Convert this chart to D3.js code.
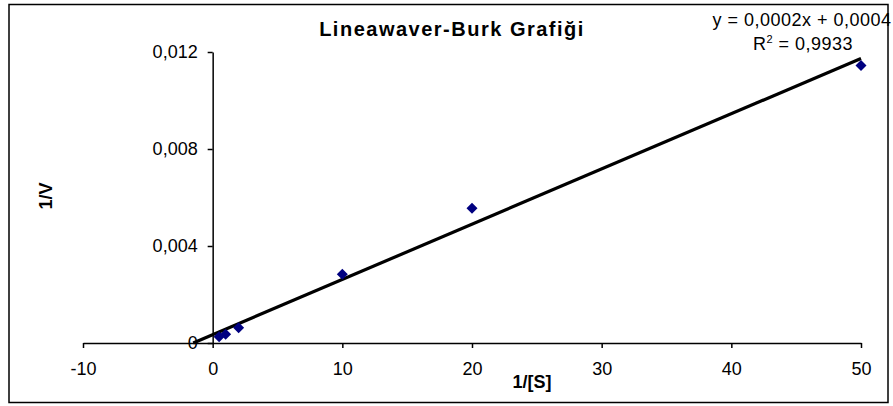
<!DOCTYPE html>
<html>
<head>
<meta charset="utf-8">
<script src="https://cdn.jsdelivr.net/npm/d3@7"></script>
<style>
  body { margin: 0; background: #fff; }
  svg text { font-family: "Liberation Sans", Arial, sans-serif; fill: #000; }
</style>
</head>
<body>
<script>
// data
const invS = [0.5, 1, 2, 10, 20, 50];
const invV = [0.00026, 0.00036, 0.00063, 0.00283, 0.00556, 0.01144];
const xTicks = [-10, 0, 10, 20, 30, 40, 50];
const yTicks = [0, 0.004, 0.008, 0.012];
const titleText = "Lineawaver-Burk Grafiği";
const eqText = "y = 0,0002x + 0,0004";
const r2Value = "0,9933";
const backCast = -1.5; // trendline drawn back past 0

const svgWidth = 893;
const svgHeight = 406;

const svg = d3.select("body").append("svg")
  .attr("width", svgWidth)
  .attr("height", svgHeight);

// outer frame
svg.append("rect")
  .attr("x", 9).attr("y", 4.5)
  .attr("width", 879).attr("height", 398)
  .attr("fill", "none")
  .attr("stroke", "#000")
  .attr("stroke-width", 1.5);

const x = d3.scaleLinear().domain([-10, 50]).range([83, 861]);
const y = d3.scaleLinear().domain([0, 0.012]).range([343, 52]);

const fmtY = (d) => (d === 0 ? "0" : d3.format(".3f")(d).replace(".", ","));

// x axis at y = 0
const xAxis = svg.append("g")
  .attr("transform", `translate(0, ${y(0)})`)
  .call(d3.axisBottom(x).tickValues(xTicks).tickFormat((d) => String(d))
    .tickSize(5).tickSizeOuter(0).tickPadding(14));

// y axis at x = 0
const yAxis = svg.append("g")
  .attr("transform", `translate(${x(0)}, 0)`)
  .call(d3.axisLeft(y).tickValues(yTicks).tickFormat(fmtY).tickSize(5).tickSizeOuter(0).tickPadding(10));

[xAxis, yAxis].forEach((g) => {
  g.selectAll("path.domain").attr("stroke", "#000").attr("stroke-width", 1.5);
  g.selectAll(".tick line").attr("stroke", "#000").attr("stroke-width", 1.5);
  g.selectAll(".tick text")
    .attr("font-family", "Liberation Sans, Arial, sans-serif")
    .attr("font-size", "18px")
    .attr("fill", "#000");
});

// least squares trendline
const n = invS.length;
const mx = d3.mean(invS);
const my = d3.mean(invV);
let sxy = 0, sxx = 0;
for (let i = 0; i < n; i++) {
  sxy += (invS[i] - mx) * (invV[i] - my);
  sxx += (invS[i] - mx) * (invS[i] - mx);
}
const slope = sxy / sxx;
const intercept = my - slope * mx;
const xEnd = d3.max(invS);

svg.append("line")
  .attr("x1", x(backCast))
  .attr("y1", y(slope * backCast + intercept))
  .attr("x2", x(xEnd))
  .attr("y2", y(slope * xEnd + intercept))
  .attr("stroke", "#000")
  .attr("stroke-width", 3.2);

// diamond markers
const diamond = "M0,-5.5L5.5,0L0,5.5L-5.5,0Z";
svg.selectAll(".pt")
  .data(invS)
  .enter()
  .append("path")
  .attr("class", "pt")
  .attr("d", diamond)
  .attr("transform", (d, i) => `translate(${x(d)}, ${y(invV[i])})`)
  .attr("fill", "#000080");

// title
svg.append("text")
  .attr("x", 452)
  .attr("y", 36)
  .attr("text-anchor", "middle")
  .attr("font-size", "20px")
  .attr("font-weight", "bold")
  .attr("letter-spacing", "1.5px")
  .text(titleText);

// equation + r squared
svg.append("text")
  .attr("x", 802)
  .attr("y", 26)
  .attr("text-anchor", "middle")
  .attr("font-size", "18px")
  .attr("letter-spacing", "0.5px")
  .text(eqText);

const r2 = svg.append("text")
  .attr("x", 803)
  .attr("y", 50)
  .attr("text-anchor", "middle")
  .attr("font-size", "18px")
  .attr("letter-spacing", "0.5px");
r2.append("tspan").text("R");
r2.append("tspan").attr("dy", -7).attr("font-size", "11px").text("2");
r2.append("tspan").attr("dy", 7).text(" = " + r2Value);

// axis titles
svg.append("text")
  .attr("x", 532)
  .attr("y", 388)
  .attr("text-anchor", "middle")
  .attr("font-size", "18px")
  .attr("font-weight", "bold")
  .text("1/[S]");

svg.append("text")
  .attr("transform", "translate(52, 196) rotate(-90)")
  .attr("text-anchor", "middle")
  .attr("font-size", "18px")
  .attr("font-weight", "bold")
  .text("1/V");
</script>
</body>
</html>
